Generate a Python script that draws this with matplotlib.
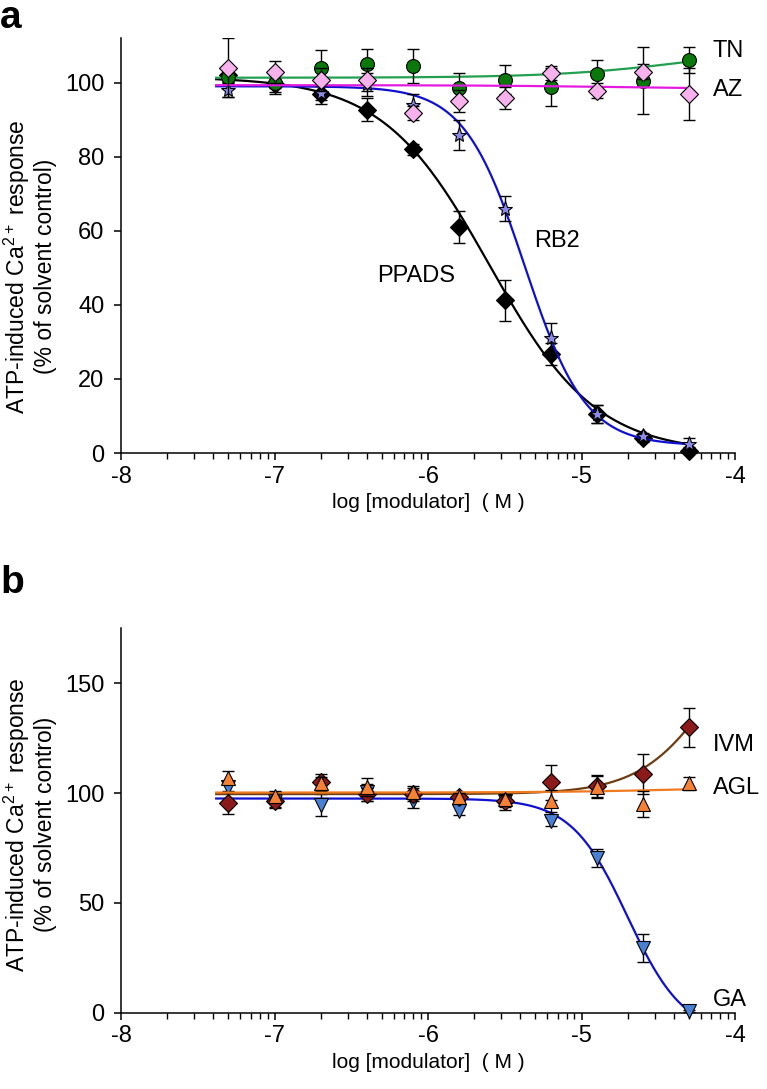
import numpy as np
import matplotlib
matplotlib.use("Agg")
import matplotlib.pyplot as plt

plt.rcParams["font.family"] = ["Liberation Sans", "DejaVu Sans"]
plt.rcParams["mathtext.default"] = "regular"
plt.rcParams["axes.unicode_minus"] = False

# log [modulator] (M)
log_conc = [-7.3, -7.0, -6.7, -6.4, -6.1, -5.8, -5.5, -5.2, -4.9, -4.6, -4.3]
x_ticks = [-8, -7, -6, -5, -4]
x_ticklabels = ["-8", "-7", "-6", "-5", "-4"]

# panel a
tn_mean = [101.5, 100.0, 104.0, 105.0, 104.5, 98.5, 100.8, 98.8, 102.2, 100.5, 106.0]
tn_sem = [2.0, 3.0, 4.7, 4.0, 4.5, 4.0, 4.0, 5.0, 4.0, 9.0, 3.5]
az_mean = [104.0, 102.8, 100.8, 100.8, 91.8, 95.1, 95.8, 102.6, 97.8, 102.9, 96.9]
az_sem = [8.0, 3.0, 3.0, 3.0, 2.0, 3.0, 3.0, 2.0, 2.0, 2.0, 7.0]
rb2_mean = [98.1, 99.9, 97.2, 99.5, 94.0, 85.8, 66.0, 31.0, 10.5, 4.5, 2.5]
rb2_sem = [2.0, 1.5, 2.0, 3.0, 3.0, 4.0, 3.5, 4.0, 2.5, 1.0, 1.5]
ppads_mean = [102.0, 99.5, 96.8, 92.7, 82.0, 61.0, 41.2, 26.8, 10.5, 4.0, 0.5]
ppads_sem = [2.0, 2.0, 2.5, 3.0, 1.5, 4.4, 5.5, 3.0, 2.5, 1.0, 1.0]

# panel b
ivm_mean = [95.3, 96.5, 104.8, 99.5, 99.5, 98.0, 96.5, 104.8, 103.3, 108.6, 129.8]
ivm_sem = [5.0, 3.0, 4.0, 3.0, 3.0, 2.0, 3.0, 8.0, 5.0, 9.0, 8.7]
agl_mean = [107.0, 98.8, 104.4, 102.6, 100.3, 98.0, 97.3, 96.2, 102.6, 95.0, 104.4]
agl_sem = [3.0, 2.0, 3.0, 4.0, 3.0, 2.0, 2.0, 5.0, 5.0, 6.0, 3.0]
ga_mean = [102.9, 96.2, 94.7, 100.3, 96.2, 92.0, 96.5, 87.1, 70.5, 29.5, 1.0]
ga_sem = [2.0, 3.0, 5.0, 4.0, 3.0, 2.0, 4.0, 2.0, 4.0, 6.5, 0.5]

# fitted Hill curves: (start, end, logEC50, hill slope)
tn_fit = (101.3, 110.0, -4.3, 1.0)
az_fit = (99.3, 98.3, -4.8, 1.0)
rb2_fit = (99.0, 2.0, -5.37, 2.2)
ppads_fit = (101.5, 0.0, -5.6, 1.25)
ivm_fit = (99.5, 199.5, -4.1, 1.76)
agl_fit = (100.2, 103.2, -4.3, 1.0)
ga_fit = (97.5, -10.0, -4.7, 2.37)


def hill(x, params):
    start, end, logec50, slope = params
    return start + (end - start) / (1 + 10 ** ((logec50 - x) * slope))


def style_axes(ax, ylim, yticks, label_y):
    ax.set_xlim(-8, -4)
    ax.set_ylim(*ylim)
    ax.set_xticks(x_ticks)
    ax.set_xticklabels(x_ticklabels)
    minor = [d + np.log10(k) for d in range(-8, -4) for k in range(2, 10)]
    ax.set_xticks(minor, minor=True)
    ax.set_yticks(yticks)
    ax.spines["top"].set_visible(False)
    ax.spines["right"].set_visible(False)
    for s in ("left", "bottom"):
        ax.spines[s].set_linewidth(1.1)
    ax.tick_params(which="major", direction="out", length=5, width=1.1,
                   labelsize=17, pad=4)
    ax.tick_params(axis="y", pad=7)
    ax.tick_params(which="minor", direction="out", length=4, width=1.0)
    ax.set_xlabel("log [modulator]  ( M )", fontsize=15, labelpad=4)
    ax.set_ylabel("ATP-induced Ca$^{2+}$ response\n(% of solvent control)",
                  fontsize=16.5, linespacing=1.1)
    ax.yaxis.set_label_coords(-0.105, label_y)


def series(ax, mean, sem, fit, marker, face, line, ms, z):
    xs = np.linspace(-7.38, -4.3, 300)
    ax.plot(xs, hill(xs, fit), color=line, lw=1.6, zorder=z)
    ax.errorbar(log_conc, mean, yerr=sem, fmt="none", ecolor="black",
                elinewidth=1.0, capsize=4.5, capthick=1.0, zorder=z + 0.1)
    ax.plot(log_conc, mean, linestyle="none", marker=marker, ms=ms,
            mfc=face, mec="black", mew=0.8, zorder=z + 0.2, clip_on=False)


fig = plt.figure(figsize=(7.67, 10.89), dpi=100)
ax_a = fig.add_axes([0.1578, 0.584, 0.8005, 0.381])
ax_b = fig.add_axes([0.1578, 0.0698, 0.8005, 0.3535])

series(ax_a, ppads_mean, ppads_sem, ppads_fit, "D", "black", "black", 9, 3)
series(ax_a, rb2_mean, rb2_sem, rb2_fit, "*", "#8C8CE6", "#1010D0", 11, 4)
series(ax_a, tn_mean, tn_sem, tn_fit, "o", "#0A780A", "#22A050", 10, 5)
series(ax_a, az_mean, az_sem, az_fit, "D", "#F7B2EE", "#E41AE0", 9, 6)
style_axes(ax_a, (0, 112), [0, 20, 40, 60, 80, 100], 0.45)

ax_a.text(-4.145, 108.4, "TN", fontsize=17, va="center", clip_on=False)
ax_a.text(-4.145, 98.1, "AZ", fontsize=17, va="center", clip_on=False)
ax_a.text(-5.306, 57.3, "RB2", fontsize=17, va="center")
ax_a.text(-6.33, 47.8, "PPADS", fontsize=17, va="center")

series(ax_b, ga_mean, ga_sem, ga_fit, "v", "#4A80D4", "#1010D0", 10, 3)
series(ax_b, ivm_mean, ivm_sem, ivm_fit, "D", "#8B1A1A", "#6E3E12", 9, 4)
series(ax_b, agl_mean, agl_sem, agl_fit, "^", "#F58234", "#F07A1E", 10, 5)
style_axes(ax_b, (0, 175), [0, 50, 100, 150], 0.49)

ax_b.text(-4.145, 121.8, "IVM", fontsize=17, va="center", clip_on=False)
ax_b.text(-4.145, 102.3, "AGL", fontsize=17, va="center", clip_on=False)
ax_b.text(-4.145, 5.9, "GA", fontsize=17, va="center", clip_on=False)

fig.text(0.0, 1.0, "a", fontsize=28, fontweight="bold", va="top", ha="left")
fig.text(0.0, 1 - 565 / 1089, "b", fontsize=28, fontweight="bold",
         va="top", ha="left")

fig.savefig("out.png", dpi=100)
